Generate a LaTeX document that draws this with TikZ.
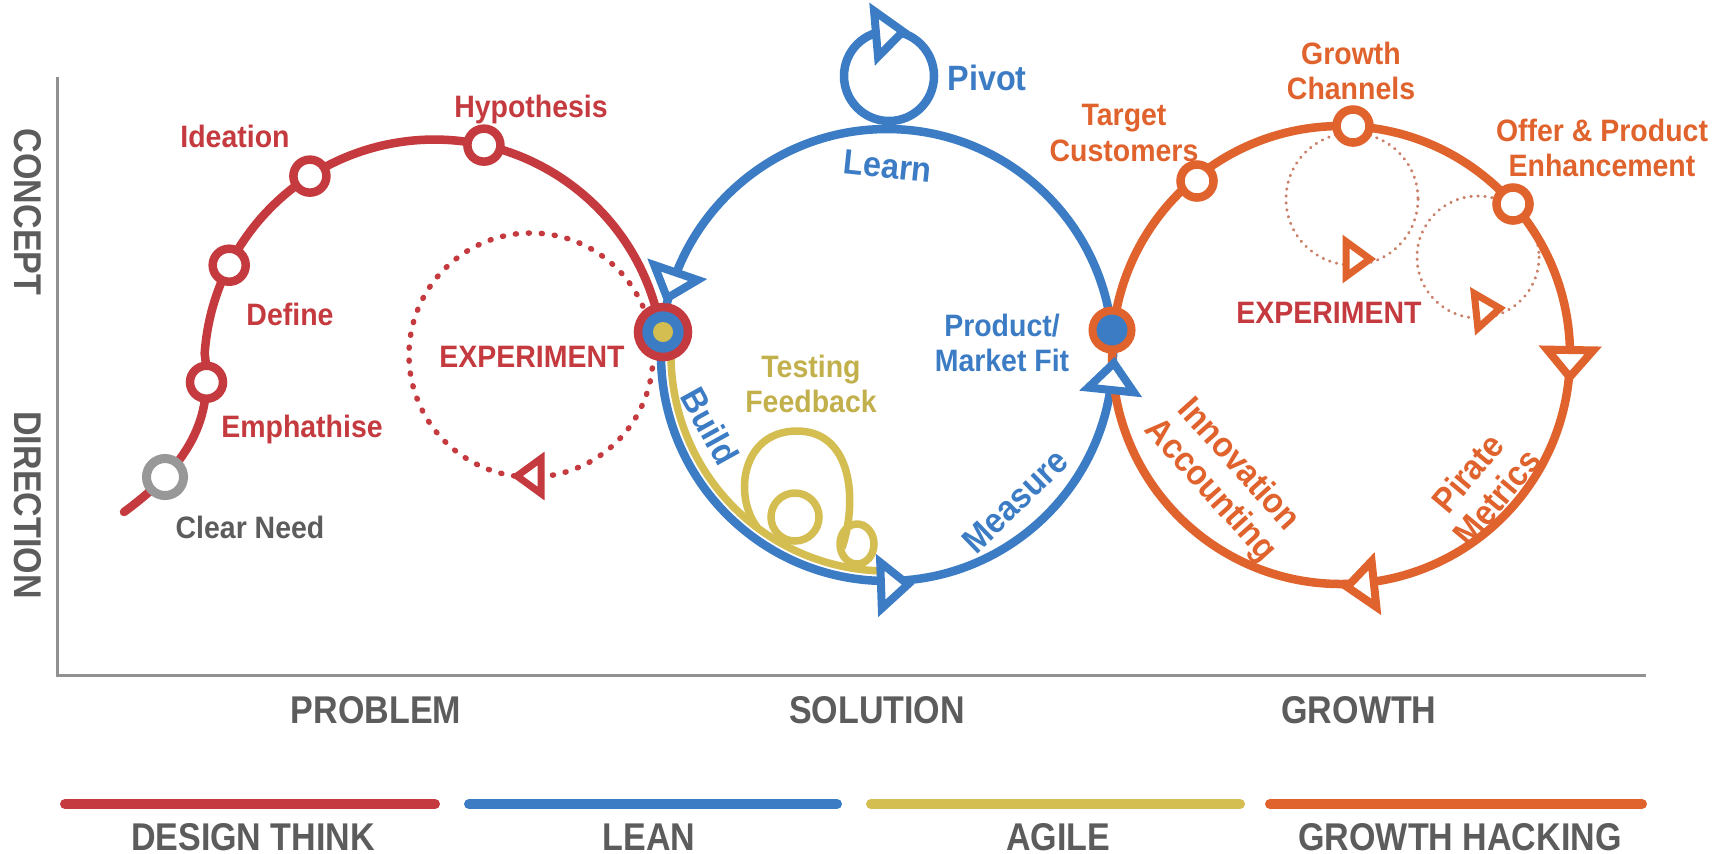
\documentclass[tikz,border=0pt]{standalone}
\usepackage{fontspec}
\newfontfamily\labfont[FakeStretch=0.92]{Liberation Sans}
\newfontfamily\axfont[FakeStretch=0.88]{Liberation Sans}
\definecolor{cred}{RGB}{196,58,62}
\definecolor{cblue}{RGB}{59,124,196}
\definecolor{cyel}{RGB}{212,190,82}
\definecolor{cyeltext}{RGB}{194,176,76}
\definecolor{corange}{RGB}{224,98,44}
\definecolor{cgreyring}{RGB}{152,152,152}
\definecolor{cgreytext}{RGB}{92,92,92}
\definecolor{caxis}{RGB}{145,145,145}
\definecolor{cdot}{RGB}{202,128,104}
\tikzset{
  lab/.style={font=\labfont\bfseries\fontsize{8.8}{10}\selectfont, inner sep=0pt},
  lab2/.style={font=\labfont\bfseries\fontsize{8.8}{10}\selectfont, inner sep=0pt, align=center},
  labbig/.style={font=\labfont\bfseries\fontsize{10}{11}\selectfont, inner sep=0pt},
  labrot/.style={font=\labfont\bfseries\fontsize{10}{10.8}\selectfont, inner sep=0pt, align=center},
  axlab/.style={font=\axfont\bfseries\fontsize{11}{13}\selectfont, text=cgreytext, inner sep=0pt},
  ring/.style={circle, draw=#1, fill=white, line width=0.085cm, minimum size=0.33cm, inner sep=0pt},
  track/.style={line width=0.085cm, draw=#1},
  yl/.style={line width=0.075cm, draw=cyel},
  bar/.style={line width=0.1cm, line cap=round, draw=#1},
  pics/tri/.style={code={\draw[draw=#1, fill=white, line width=0.08cm, line join=miter] (0.18cm,0cm) -- (-0.09cm,0.23cm) -- (-0.09cm,-0.23cm) -- cycle;}},
  pics/trism/.style={code={\draw[draw=#1, fill=white, line width=0.07cm, line join=miter] (0.16cm,0cm) -- (-0.08cm,0.175cm) -- (-0.08cm,-0.175cm) -- cycle;}},
}
\begin{document}
\begin{tikzpicture}[x=0.01cm, y=-0.01cm]
\fill[white] (0,0) rectangle (1725,853);
\useasboundingbox (0,0) rectangle (1725,853);

% axes
\coordinate (ytop) at (57,77);
\coordinate (orig) at (57,675);
\coordinate (xend) at (1646,675);
\draw[caxis, line width=0.03cm] (ytop) -- (orig) -- (xend);
\node[axlab, rotate=-90] (tCon) at (27.5,212) {CONCEPT};
\node[axlab, rotate=-90] (tDir) at (27.5,505) {DIRECTION};

% dotted experiment circles
\draw[cred, line width=0.055cm, line cap=round, dash pattern=on 0.01cm off 0.12cm] (531,355) circle[radius=122];
\draw[cdot, line width=0.03cm, line cap=round, dash pattern=on 0.005cm off 0.065cm] (1352,199) circle[radius=66];
\draw[cdot, line width=0.03cm, line cap=round, dash pattern=on 0.005cm off 0.065cm] (1478,257) circle[radius=61];

% red design-thinking curve
\draw[track=cred, line cap=round] (661,332) arc[start angle=-9.4, end angle=-176, radius=230]
  .. controls (214,420) and (188,465) .. (124,512);

% blue lean circle and pivot loop
\draw[track=cblue] (887,355) circle[radius=226];
\draw[track=cblue] (889,76) circle[radius=45];

% yellow agile path
\draw[yl] (887,355) ++(-175:216) arc[start angle=-175, end angle=-268, radius=216];
\draw[yl] (757,527) .. controls (733,495) and (742,431) .. (797,431) .. controls (852,431) and (858,500) .. (842,548);
\draw[yl] (795,517) circle[radius=24];
\draw[yl] (857,544) ellipse[x radius=17, y radius=20];

% orange growth circle
\draw[track=corange] (1341,355) circle[radius=229];

% rings
\node[ring=cred] (hyp) at (483.9,145.1) {};
\node[ring=cred] (ide) at (309.9,176.1) {};
\node[ring=cred] (def) at (229.2,265.2) {};
\node[ring=cred] (emp) at (206.5,382.2) {};
\node[ring=cgreyring, line width=0.09cm, minimum size=0.37cm] (clr) at (165,477) {};
\node[ring=corange] (tcr) at (1197,181) {};
\node[ring=corange] (gcr) at (1353,126) {};
\node[ring=corange] (opr) at (1513,204) {};

% junctions
\node[circle, draw=cred, fill=cblue, line width=0.085cm, minimum size=0.5cm, inner sep=0pt] (jL) at (663,332) {};
\node[circle, fill=cyel, minimum size=0.2cm, inner sep=0pt] (jLc) at (jL) {};
\node[circle, draw=corange, fill=cblue, line width=0.08cm, minimum size=0.39cm, inner sep=0pt] (jR) at (1112,330) {};

% arrowheads
\pic[rotate=-109] at (673,281) {tri=cblue};
\pic[rotate=2] at (890,585) {tri=cblue};
\pic[rotate=84] at (1112,381) {tri=cblue};
\pic[rotate=5] at (885,33) {tri=cblue};
\pic[rotate=-91] at (1570,359) {tri=corange};
\pic[rotate=-174] at (1365,585) {tri=corange};
\pic[rotate=0] at (1354,259) {trism=corange};
\pic[rotate=6] at (1484,310) {trism=corange};
\pic[rotate=180] at (533,476) {trism=cred};

% red labels
\node[lab, text=cred, anchor=base] (tHyp) at (531,117) {Hypothesis};
\node[lab, text=cred, anchor=base] (tIde) at (235,147) {Ideation};
\node[lab, text=cred, anchor=base] (tDef) at (290,325) {Define};
\node[lab, text=cred, anchor=base] (tEmp) at (302,437) {Emphathise};
\node[lab, text=cgreytext, anchor=base] (tClr) at (250,538) {Clear Need};
\node[lab, text=cred, anchor=base] (tEx1) at (532,367) {EXPERIMENT};

% blue labels
\node[labbig, text=cblue, anchor=base] (tPiv) at (987,90) {Pivot};
\node[labbig, text=cblue, rotate=-6] (tLea) at (888,166) {Learn};
\node[labbig, text=cblue, rotate=-61] (tBui) at (710,426) {Build};
\node[labbig, text=cblue, rotate=44] (tMea) at (1015,501) {Measure};
\node[lab2, text=cblue] (tPMF) at (1002,343) {Product/\\Market Fit};
\node[lab2, text=cyeltext] (tTF) at (811,384) {Testing\\Feedback};

% orange labels
\node[lab2, text=corange] (tTC) at (1124,133) {Target\\Customers};
\node[lab2, text=corange] (tGC) at (1351,71) {Growth\\Channels};
\node[lab2, text=corange] (tOP) at (1602,148) {Offer \& Product\\Enhancement};
\node[lab, text=cred, anchor=base] (tEx2) at (1329,323) {EXPERIMENT};
\node[labrot, text=corange, rotate=-48] (tIA) at (1224,478) {Innovation\\Accounting};
\node[labrot, text=corange, rotate=50] (tPM) at (1482,485) {Pirate\\Metrics};

% phase labels
\node[axlab, anchor=base] (tPro) at (376,723) {PROBLEM};
\node[axlab, anchor=base] (tSol) at (877,723) {SOLUTION};
\node[axlab, anchor=base] (tGro) at (1359,723) {GROWTH};

% legend bars
\draw[bar=cred] (65,804) -- (435,804);
\draw[bar=cblue] (469,804) -- (837,804);
\draw[bar=cyel] (871,804) -- (1240,804);
\draw[bar=corange] (1270,804) -- (1642,804);
\node[axlab, anchor=base] (tDT) at (253,850) {DESIGN THINK};
\node[axlab, anchor=base] (tLean) at (649,850) {LEAN};
\node[axlab, anchor=base] (tAg) at (1058,850) {AGILE};
\node[axlab, anchor=base] (tGH) at (1460,850) {GROWTH HACKING};
\end{tikzpicture}
\end{document}
